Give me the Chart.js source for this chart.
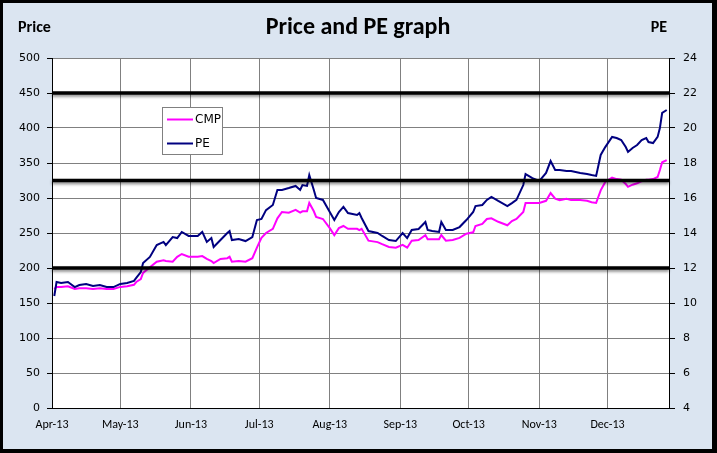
<!DOCTYPE html>
<html><head><meta charset="utf-8">
<script src="https://cdn.jsdelivr.net/npm/chart.js@4/dist/chart.umd.min.js"></script>
<style>
html,body{margin:0;padding:0;background:#fff;}
canvas{display:block;}
</style></head><body>
<canvas id="c" width="717" height="453"></canvas>
<script>
// ---------- data ----------
const dates = [
"2013-04-02","2013-04-03","2013-04-05","2013-04-08","2013-04-11","2013-04-13","2013-04-16","2013-04-19","2013-04-22","2013-04-25","2013-04-28",
"2013-05-01","2013-05-04","2013-05-07","2013-05-08","2013-05-10","2013-05-11","2013-05-14","2013-05-17","2013-05-20","2013-05-21","2013-05-24","2013-05-26","2013-05-28","2013-05-31",
"2013-06-04","2013-06-06","2013-06-08","2013-06-10","2013-06-11","2013-06-14","2013-06-17","2013-06-18","2013-06-19","2013-06-22","2013-06-25","2013-06-28","2013-06-30",
"2013-07-02","2013-07-04","2013-07-07","2013-07-09","2013-07-11","2013-07-14","2013-07-17","2013-07-19","2013-07-20","2013-07-22","2013-07-23","2013-07-25","2013-07-26","2013-07-29",
"2013-08-01","2013-08-03","2013-08-05","2013-08-07","2013-08-09","2013-08-13","2013-08-14","2013-08-15","2013-08-18","2013-08-22","2013-08-24","2013-08-27","2013-08-30",
"2013-09-02","2013-09-04","2013-09-06","2013-09-09","2013-09-12","2013-09-13","2013-09-15","2013-09-18","2013-09-19","2013-09-21","2013-09-24","2013-09-27","2013-09-30",
"2013-10-03","2013-10-04","2013-10-07","2013-10-09","2013-10-11","2013-10-14","2013-10-18","2013-10-20","2013-10-22","2013-10-25","2013-10-26","2013-10-29",
"2013-11-01","2013-11-04","2013-11-06","2013-11-08","2013-11-10","2013-11-13","2013-11-15","2013-11-19","2013-11-22","2013-11-24","2013-11-26","2013-11-28","2013-11-30",
"2013-12-03","2013-12-05","2013-12-07","2013-12-09","2013-12-10","2013-12-12","2013-12-14","2013-12-16","2013-12-18","2013-12-19","2013-12-21","2013-12-23","2013-12-24","2013-12-25","2013-12-27"
];
const cmp = [
170,173,173,174,170,171,171,170,171,170,170,
173,174,176,180,184,193,201,209,211,210,209,216,220,216,
216,217,213,210,207,213,214,216,209,210,209,214,229,
243,250,256,271,280,279,283,279,281,281,293,281,273,270,
257,247,257,260,256,256,254,256,239,237,234,230,229,
233,229,239,240,247,241,241,241,247,239,240,243,249,
251,260,263,270,271,266,261,267,270,280,293,293,
293,296,307,299,297,299,297,297,296,294,293,311,323,
329,327,326,320,316,319,321,324,326,326,327,330,340,351,354
];
const pe = [
10.4,11.2,11.14,11.2,10.91,11.03,11.09,10.97,11.03,10.91,10.91,
11.09,11.14,11.26,11.43,11.77,12.29,12.63,13.31,13.49,13.31,13.77,13.71,14.06,13.83,
13.83,14.06,13.49,13.71,13.2,13.6,14.0,14.11,13.6,13.66,13.54,13.77,14.74,
14.8,15.31,15.6,16.46,16.46,16.57,16.69,16.46,16.74,16.69,17.31,16.46,16.0,15.89,
15.2,14.74,15.2,15.49,15.14,15.03,15.14,14.86,14.11,14.0,13.83,13.6,13.54,
14.0,13.71,14.17,14.23,14.63,14.17,14.11,14.06,14.63,14.17,14.17,14.34,14.74,
15.2,15.54,15.6,15.89,16.06,15.83,15.54,15.71,15.89,16.74,17.37,17.14,
16.97,17.43,18.11,17.6,17.6,17.54,17.54,17.43,17.37,17.31,17.26,18.46,18.91,
19.49,19.43,19.31,18.91,18.63,18.86,19.03,19.31,19.43,19.2,19.14,19.49,20.0,20.86,21.03
];
const monthStarts = ["2013-04-01","2013-05-01","2013-06-01","2013-07-01","2013-08-01","2013-09-01","2013-10-01","2013-11-01","2013-12-01"];
const monthLabels = ["Apr-13","May-13","Jun-13","Jul-13","Aug-13","Sep-13","Oct-13","Nov-13","Dec-13"];
const axisStart = "2013-04-01";
const axisEnd = "2013-12-28";
const peLevels = [22, 17, 12];
const seriesNames = ["CMP", "PE"];

// ---------- helpers ----------
function dayOf(s){
  const [y,m,d] = s.split('-').map(Number);
  const [y0,m0,d0] = axisStart.split('-').map(Number);
  return Math.round((Date.UTC(y,m-1,d) - Date.UTC(y0,m0-1,d0))/86400000);
}
const xs = dates.map(dayOf);
const monthDays = monthStarts.map(dayOf);

const COL_CMP = '#ff00ff', COL_PE = '#000080';
const tickFont = {family:"'DejaVu Sans', Verdana, sans-serif", size:11};

const decor = {
  id:'decor',
  beforeDraw(chart){
    const ctx = chart.ctx, W = chart.width, H = chart.height, a = chart.chartArea;
    ctx.save();
    ctx.fillStyle = '#dbe5f1';
    ctx.fillRect(0,0,W,H);
    ctx.fillStyle = '#ffffff';
    ctx.fillRect(a.left, a.top, a.right-a.left, a.bottom-a.top);
    ctx.fillStyle = '#000';
    ctx.fillRect(0,0,W,3);
    ctx.fillRect(0,H-4,W,4);
    ctx.fillRect(0,0,3,H);
    ctx.fillRect(W-5,0,5,H);
    ctx.fillStyle = '#000';
    ctx.textBaseline = 'alphabetic';
    ctx.font = "bold 24px Carlito, Lato, sans-serif";
    ctx.textAlign = 'center';
    ctx.fillText("Price and PE graph", 358, 34);
    ctx.font = "bold 16px Carlito, Lato, sans-serif";
    ctx.textAlign = 'left';
    ctx.fillText("Price", 18, 32);
    ctx.textAlign = 'right';
    ctx.fillText("PE", 667, 32);
    ctx.restore();
  },
  afterDatasetsDraw(chart){
    const ctx = chart.ctx, a = chart.chartArea, y1 = chart.scales.y1;
    ctx.save();
    // horizontal black reference lines (PE levels)
    ctx.strokeStyle = '#000';
    ctx.lineWidth = 3.5;
    ctx.shadowColor = 'rgba(0,0,0,0.45)';
    ctx.shadowOffsetY = 2;
    ctx.shadowBlur = 3;
    peLevels.forEach(v => {
      const yy = y1.getPixelForValue(v);
      ctx.beginPath();
      ctx.moveTo(a.left, yy);
      ctx.lineTo(a.right, yy);
      ctx.stroke();
    });
    ctx.restore();
    // legend box
    ctx.save();
    ctx.fillStyle = '#fff';
    ctx.fillRect(162.5, 107.5, 60, 47);
    ctx.strokeStyle = '#808080';
    ctx.lineWidth = 1;
    ctx.strokeRect(162.5, 107.5, 60, 47);
    const cols = [COL_CMP, COL_PE];
    const ys = [119.5, 143.5];
    ctx.font = "12px 'DejaVu Sans', Verdana, sans-serif";
    ctx.textBaseline = 'middle';
    ctx.textAlign = 'left';
    seriesNames.forEach((n,i) => {
      ctx.strokeStyle = cols[i];
      ctx.lineWidth = 2;
      ctx.beginPath();
      ctx.moveTo(167, ys[i]);
      ctx.lineTo(193, ys[i]);
      ctx.stroke();
      ctx.fillStyle = '#000';
      ctx.fillText(n, 195, ys[i] + 0.5);
    });
    ctx.restore();
  }
};

new Chart(document.getElementById('c'), {
  type:'line',
  data:{
    datasets:[
      {label:seriesNames[0], data: xs.map((x,i)=>({x, y:cmp[i]})), yAxisID:'y',
       borderColor:COL_CMP, borderWidth:2, pointRadius:0, tension:0, order:1, fill:false},
      {label:seriesNames[1], data: xs.map((x,i)=>({x, y:pe[i]})), yAxisID:'y1',
       borderColor:COL_PE, borderWidth:2, pointRadius:0, tension:0, order:0, fill:false}
    ]
  },
  options:{
    responsive:false,
    animation:false,
    events:[],
    layout:{padding:{top:58, left:0, right:0, bottom:0}},
    plugins:{legend:{display:false}, title:{display:false}, tooltip:{enabled:false}},
    scales:{
      x:{
        type:'linear', position:'bottom',
        min:dayOf(axisStart), max:dayOf(axisEnd),
        afterBuildTicks: s => { s.ticks = monthDays.map(v => ({value:v})); },
        afterFit: s => { s.height = 45; },
        ticks:{autoSkip:false, maxRotation:0, minRotation:0, padding:10, color:'#000',
               font:{family:"Carlito, Lato, sans-serif", size:12},
               callback:(v,i) => monthLabels[i]},
        grid:{color:'#808080', lineWidth:1, drawTicks:false},
        border:{color:'#000', width:1}
      },
      y:{
        position:'left', min:0, max:500,
        afterFit: s => { s.width = 52; },
        ticks:{stepSize:50, padding:7, color:'#000', font:tickFont},
        grid:{color:'#808080', lineWidth:1, tickLength:5, tickColor:'#000'},
        border:{color:'#000', width:1}
      },
      y1:{
        position:'right', min:4, max:24,
        afterFit: s => { s.width = 48; },
        ticks:{stepSize:2, padding:8, color:'#000', font:tickFont},
        grid:{drawOnChartArea:false, tickLength:6, tickColor:'#000'},
        border:{color:'#000', width:1}
      }
    }
  },
  plugins:[decor]
});
</script>
</body></html>
